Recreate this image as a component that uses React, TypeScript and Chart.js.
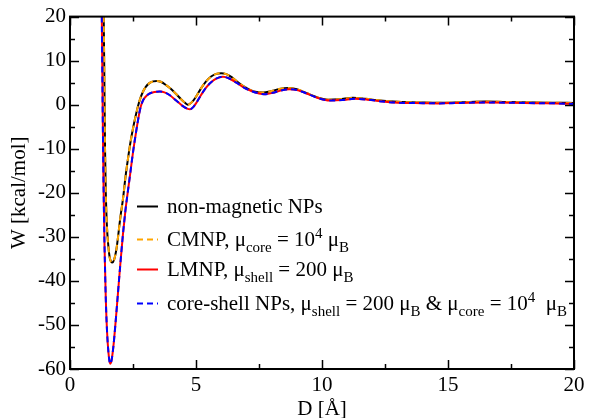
import React, { useEffect, useRef } from "react";
import { Chart, registerables } from "chart.js";

Chart.register(...registerables);

// ---- data (D in Å, W in kcal/mol) ----
const nonMagneticD = [1.25, 1.30, 1.33, 1.36, 1.39, 1.42, 1.46, 1.52, 1.58, 1.68, 1.75, 1.85, 2.0, 2.1, 2.2, 2.3, 2.4, 2.5, 2.6, 2.7, 2.8, 2.9, 3.0, 3.15, 3.3, 3.45, 3.6, 3.8, 4.0, 4.2, 4.4, 4.55, 4.68, 4.8, 4.9, 5.0, 5.2, 5.4, 5.6, 5.8, 6.0, 6.2, 6.4, 6.6, 6.8, 7.0, 7.3, 7.66, 8.0, 8.3, 8.65, 9.0, 9.4, 9.8, 10.24, 10.7, 11.23, 11.7, 12.3, 13.0, 14.0, 14.6, 15.5, 16.5, 17.5, 18.5, 19.3, 20];
const nonMagneticW = [70, 40, 24, 8, -10, -20, -27, -32, -34.8, -35.8, -35.2, -32.5, -25.5, -21.5, -16.5, -12.3, -8.5, -5.4, -2.7, -0.3, 1.6, 3.0, 4.0, 4.9, 5.3, 5.4, 5.2, 4.5, 3.6, 2.5, 1.3, 0.5, 0.0, 0.4, 1.0, 1.8, 3.7, 5.3, 6.4, 7.0, 7.15, 6.95, 6.3, 5.4, 4.5, 3.8, 3.0, 2.75, 3.1, 3.55, 3.8, 3.5, 2.6, 1.7, 1.15, 1.25, 1.55, 1.35, 0.95, 0.65, 0.5, 0.45, 0.55, 0.7, 0.6, 0.5, 0.45, 0.4];

const cmnpD = nonMagneticD;
const cmnpW = [70, 40, 24, 8, -10, -20, -27, -32, -34.8, -35.8, -35.2, -32.5, -25.5, -21.5, -16.5, -12.3, -8.5, -5.4, -2.7, -0.3, 1.6, 3.0, 4.0, 4.9, 5.3, 5.4, 5.2, 4.5, 3.6, 2.5, 1.3, 0.5, 0.0, 0.4, 1.0, 1.8, 3.7, 5.3, 6.4, 7.0, 7.15, 6.95, 6.3, 5.4, 4.5, 3.8, 3.0, 2.75, 3.1, 3.55, 3.8, 3.5, 2.6, 1.7, 1.15, 1.25, 1.55, 1.35, 0.95, 0.65, 0.5, 0.45, 0.55, 0.7, 0.6, 0.5, 0.45, 0.35];

const lmnpD = [1.20, 1.24, 1.27, 1.30, 1.33, 1.37, 1.42, 1.47, 1.53, 1.59, 1.65, 1.72, 1.8, 1.9, 2.0, 2.1, 2.2, 2.3, 2.4, 2.5, 2.6, 2.7, 2.8, 2.9, 3.0, 3.15, 3.35, 3.57, 3.75, 3.95, 4.2, 4.45, 4.65, 4.76, 4.88, 5.0, 5.2, 5.4, 5.6, 5.8, 6.07, 6.3, 6.6, 6.9, 7.2, 7.5, 7.75, 8.05, 8.35, 8.7, 9.05, 9.5, 9.9, 10.3, 10.8, 11.3, 11.8, 12.4, 13.0, 14.0, 14.6, 15.5, 16.5, 17.5, 18.5, 19.3, 20];
const lmnpW = [70, 35, 15, -3, -18, -32, -44, -51.5, -56.5, -58.8, -58, -55, -50, -43, -36, -29.5, -24, -19.5, -15.2, -10.8, -7.0, -3.5, -0.6, 1.0, 1.8, 2.5, 2.9, 3.0, 2.8, 2.2, 1.0, -0.2, -0.9, -1.05, -0.6, 0.3, 2.2, 3.9, 5.1, 5.9, 6.35, 6.0, 5.0, 3.9, 3.1, 2.55, 2.4, 2.7, 3.2, 3.5, 3.25, 2.3, 1.4, 0.95, 1.05, 1.35, 1.15, 0.7, 0.45, 0.35, 0.3, 0.4, 0.5, 0.45, 0.35, 0.3, 0.2];

const coreShellD = lmnpD;
const coreShellW = [70, 35, 15, -3, -18, -32, -44, -51.5, -56.5, -58.8, -58, -55, -50, -43, -36, -29.5, -24, -19.5, -15.2, -10.8, -7.0, -3.5, -0.6, 1.0, 1.8, 2.5, 2.9, 3.0, 2.8, 2.2, 1.0, -0.2, -0.9, -1.05, -0.6, 0.3, 2.2, 3.9, 5.1, 5.9, 6.35, 6.0, 5.0, 3.9, 3.1, 2.55, 2.4, 2.7, 3.2, 3.5, 3.25, 2.3, 1.4, 0.95, 1.05, 1.35, 1.15, 0.7, 0.45, 0.35, 0.3, 0.4, 0.5, 0.45, 0.35, 0.3, 0.15];

const xRange = [0, 20];
const yRange = [-60, 20];
const xMajorStep = 5;
const xMinorStep = 2.5;
const yMajorStep = 10;
const yMinorStep = 5;

type Seg = { t: string; k?: "sub" | "sup" };
const legendLabels: Seg[][] = [
  [{ t: "non-magnetic NPs" }],
  [{ t: "CMNP, μ" }, { t: "core", k: "sub" }, { t: " = 10" }, { t: "4", k: "sup" }, { t: " μ" }, { t: "B", k: "sub" }],
  [{ t: "LMNP, μ" }, { t: "shell", k: "sub" }, { t: " = 200 μ" }, { t: "B", k: "sub" }],
  [{ t: "core-shell NPs, μ" }, { t: "shell", k: "sub" }, { t: " = 200 μ" }, { t: "B", k: "sub" }, { t: " & μ" }, { t: "core", k: "sub" }, { t: " = 10" }, { t: "4", k: "sup" }, { t: "  μ" }, { t: "B", k: "sub" }],
];
const seriesColors = ["#000000", "#FFA500", "#FF0000", "#0000FF"];
const seriesDashed = [false, true, false, true];

const SERIF = "'Liberation Serif', 'Times New Roman', serif";

const toPoints = (xs: number[], ys: number[]) => xs.map((x, i) => ({ x, y: ys[i] }));

const frameTicksPlugin = {
  id: "frameTicks",
  afterDatasetsDraw(chart: any) {
    const { ctx, chartArea: a, scales } = chart;
    const x = scales.x;
    const y = scales.y;
    ctx.save();
    ctx.strokeStyle = "#000";
    ctx.lineWidth = 1.5;
    ctx.beginPath();
    for (let v = xRange[0]; v <= xRange[1] + 1e-9; v += xMinorStep) {
      const px = Math.round(x.getPixelForValue(v)) + 0.5;
      const len = Math.abs(v / xMajorStep - Math.round(v / xMajorStep)) < 1e-6 ? 9 : 5;
      ctx.moveTo(px, a.bottom);
      ctx.lineTo(px, a.bottom - len);
      ctx.moveTo(px, a.top);
      ctx.lineTo(px, a.top + len);
    }
    for (let v = yRange[0]; v <= yRange[1] + 1e-9; v += yMinorStep) {
      const py = Math.round(y.getPixelForValue(v)) + 0.5;
      const len = Math.abs(v / yMajorStep - Math.round(v / yMajorStep)) < 1e-6 ? 9 : 5;
      ctx.moveTo(a.left, py);
      ctx.lineTo(a.left + len, py);
      ctx.moveTo(a.right, py);
      ctx.lineTo(a.right - len, py);
    }
    ctx.stroke();
    ctx.lineWidth = 2;
    ctx.strokeRect(a.left, a.top, a.right - a.left, a.bottom - a.top);
    ctx.restore();
  },
};

const richLegendPlugin = {
  id: "richLegend",
  afterDraw(chart: any) {
    const { ctx, chartArea: a } = chart;
    const baselines = [213, 246, 276, 310];
    const sampleX = a.left + 67;
    const sampleLen = 21;
    const textX = a.left + 97;
    ctx.save();
    chart.data.datasets.forEach((ds: any, i: number) => {
      const base = baselines[i];
      const ly = base - 6.5;
      ctx.strokeStyle = ds.borderColor;
      ctx.lineWidth = 2;
      ctx.setLineDash(ds.borderDash || []);
      ctx.beginPath();
      ctx.moveTo(sampleX, ly);
      ctx.lineTo(sampleX + sampleLen, ly);
      ctx.stroke();
      ctx.setLineDash([]);
      ctx.fillStyle = "#000";
      ctx.textBaseline = "alphabetic";
      ctx.textAlign = "left";
      let cx = textX;
      for (const seg of legendLabels[i]) {
        const small = seg.k === "sub" || seg.k === "sup";
        ctx.font = `${small ? 15 : 21}px ${SERIF}`;
        const dy = seg.k === "sub" ? 6 : seg.k === "sup" ? -8 : 0;
        ctx.fillText(seg.t, cx, base + dy);
        cx += ctx.measureText(seg.t).width;
      }
    });
    ctx.restore();
  },
};

export default function App() {
  const canvasRef = useRef<HTMLCanvasElement | null>(null);

  useEffect(() => {
    const canvas = canvasRef.current;
    if (!canvas) return;
    const series = [
      [nonMagneticD, nonMagneticW],
      [cmnpD, cmnpW],
      [lmnpD, lmnpW],
      [coreShellD, coreShellW],
    ];
    const chart = new Chart(canvas, {
      type: "line",
      data: {
        datasets: series.map(([xs, ys], i) => ({
          label: legendLabels[i].map((s) => s.t).join(""),
          data: toPoints(xs, ys),
          borderColor: seriesColors[i],
          backgroundColor: seriesColors[i],
          borderWidth: 2,
          borderDash: seriesDashed[i] ? [6, 4] : [],
          pointRadius: 0,
          fill: false,
          cubicInterpolationMode: "monotone" as const,
          clip: 0,
          order: series.length - 1 - i,
        })),
      },
      options: {
        animation: false,
        responsive: false,
        devicePixelRatio: 1,
        layout: { padding: { top: 16, right: 16, left: 0, bottom: 0 } },
        plugins: { legend: { display: false }, tooltip: { enabled: false } },
        scales: {
          x: {
            type: "linear",
            min: xRange[0],
            max: xRange[1],
            grid: { display: false, drawTicks: false },
            border: { display: false },
            ticks: {
              stepSize: xMajorStep,
              color: "#000",
              font: { family: SERIF, size: 21 },
              padding: 4,
              maxRotation: 0,
            },
            title: {
              display: true,
              text: "D [Å]",
              color: "#000",
              font: { family: SERIF, size: 21, lineHeight: 1.2 },
              padding: { top: 0, bottom: -4 },
            },
            afterFit: (scale: any) => {
              scale.height = 49;
            },
          },
          y: {
            type: "linear",
            min: yRange[0],
            max: yRange[1],
            grid: { display: false, drawTicks: false },
            border: { display: false },
            ticks: {
              stepSize: yMajorStep,
              color: "#000",
              font: { family: SERIF, size: 21 },
              padding: 4,
            },
            title: {
              display: true,
              text: "W [kcal/mol]",
              color: "#000",
              font: { family: SERIF, size: 21, lineHeight: 1.2 },
              padding: { top: 7, bottom: 0 },
            },
            afterFit: (scale: any) => {
              scale.width = 70;
            },
          },
        },
      },
      plugins: [frameTicksPlugin, richLegendPlugin],
    });
    return () => chart.destroy();
  }, []);

  return (
    <div style={{ position: "absolute", left: 0, top: 0, width: 590, height: 418, background: "#fff" }}>
      <canvas ref={canvasRef} width={590} height={418} />
    </div>
  );
}
